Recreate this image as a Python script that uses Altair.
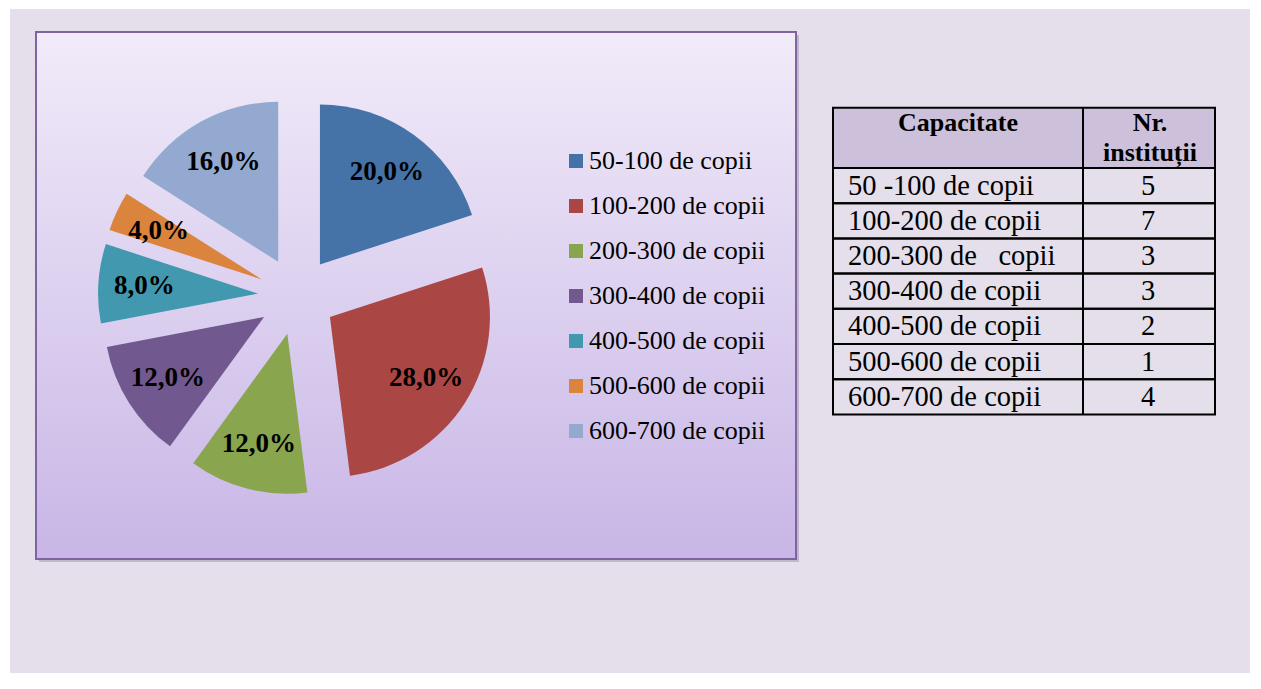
import math
import altair as alt
import pandas as pd

# ---- data ----
categories = ["50-100 de copii", "100-200 de copii", "200-300 de copii", "300-400 de copii",
              "400-500 de copii", "500-600 de copii", "600-700 de copii"]
table_labels = ["50 -100 de copii", "100-200 de copii", "200-300 de\u00a0\u00a0\u00a0copii", "300-400 de copii",
                "400-500 de copii", "500-600 de copii", "600-700 de copii"]
counts = [5, 7, 3, 3, 2, 1, 4]
colors = ["#4573A7", "#AA4643", "#89A54E", "#71588F", "#4198AF", "#DB843D", "#93A9CF"]
header_left = "Capacitate"
header_right = ["Nr.", "instituții"]

FONT = "Liberation Serif"
CX, CY, R, EXPL, LR = 287, 287, 160, 39, 114

pie_df = pd.DataFrame({"cat": categories, "count": counts, "idx": list(range(len(counts)))})
tab_df = pd.DataFrame({"label": table_labels, "count": counts, "idx": list(range(len(counts)))})

# ---- decorative panel ----
one = alt.Data(values=[{"k": 1}])
shadow = alt.Chart(one).mark_rect(color="#9c90aa", opacity=0.5).encode(
    x=alt.value(29), x2=alt.value(789), y=alt.value(26), y2=alt.value(553))
panel = alt.Chart(one).mark_rect(
    color=alt.Gradient(gradient="linear", x1=0, x2=0, y1=0, y2=1,
                       stops=[alt.GradientStop(color="#F1EBF9", offset=0),
                              alt.GradientStop(color="#C8B6E6", offset=1)]),
    stroke="#8064A2", strokeWidth=2).encode(
    x=alt.value(26), x2=alt.value(786), y=alt.value(23), y2=alt.value(550))

# ---- pie ----
base = (alt.Chart(pie_df)
        .transform_joinaggregate(total="sum(count)")
        .transform_window(cum="sum(count)", sort=[alt.SortField("idx")], frame=[None, 0])
        .transform_calculate(a0="(datum.cum - datum.count) / datum.total")
        .transform_calculate(a1="datum.cum / datum.total")
        .transform_calculate(mid="PI * (datum.a0 + datum.a1)")
        .transform_calculate(px=f"{CX} + {EXPL} * sin(datum.mid)")
        .transform_calculate(py=f"{CY} - {EXPL} * cos(datum.mid)")
        .transform_calculate(lx=f"datum.px + {LR} * sin(datum.mid)")
        .transform_calculate(ly=f"datum.py - {LR} * cos(datum.mid)")
        .transform_calculate(txt="replace(format(datum.count / datum.total * 100, '.1f'), '.', ',') + '%'"))

arcs = base.mark_arc(radius=R, stroke=None).encode(
    theta=alt.Theta("a0:Q", scale=alt.Scale(domain=[0, 1], range=[0, 2 * math.pi])),
    theta2="a1:Q",
    x=alt.X("px:Q", scale=None, axis=None),
    y=alt.Y("py:Q", scale=None, axis=None),
    color=alt.Color("cat:N", scale=alt.Scale(domain=categories, range=colors),
                    legend=alt.Legend(title=None, orient="none", legendX=553, legendY=139,
                                      symbolType="square", symbolSize=196, symbolStrokeWidth=0,
                                      symbolOpacity=1, labelFont=FONT, labelFontSize=26,
                                      labelColor="black", labelOffset=0, rowPadding=19,
                                      padding=0, labelLimit=400)),
)
labels = base.mark_text(font=FONT, fontSize=27, fontWeight="bold", color="black",
                        align="center", baseline="middle").encode(
    x=alt.X("lx:Q", scale=None, axis=None),
    y=alt.Y("ly:Q", scale=None, axis=None),
    text="txt:N")

# ---- table ----
TX0, TX1, TXD = 823, 1205, 1073
HY0, HY1, RH = 98.7, 159, 35.2

tbase = (alt.Chart(tab_df)
         .transform_calculate(y0=f"{HY1} + {RH} * datum.idx")
         .transform_calculate(y1=f"{HY1} + {RH} * (datum.idx + 1)")
         .transform_calculate(yc=f"{HY1} + {RH} * (datum.idx + 0.5)"))

header = alt.Chart(one).mark_rect(fill="#CCC0DA", stroke="black", strokeWidth=2).encode(
    x=alt.value(TX0), x2=alt.value(TX1), y=alt.value(HY0), y2=alt.value(HY1))
rows = tbase.mark_rect(fill="transparent", stroke="black", strokeWidth=2).encode(
    x=alt.value(TX0), x2=alt.value(TX1),
    y=alt.Y("y0:Q", scale=None, axis=None), y2="y1:Q")
divider = alt.Chart(one).mark_rule(color="black", strokeWidth=2).encode(
    x=alt.value(TXD), y=alt.value(HY0), y2=alt.value(HY1 + RH * len(counts)))
row_txt = tbase.mark_text(font=FONT, fontSize=28.5, color="black", align="left",
                          baseline="middle").encode(
    x=alt.value(838), y=alt.Y("yc:Q", scale=None, axis=None), text="label:N")
cnt_txt = tbase.mark_text(font=FONT, fontSize=28.5, color="black", align="center",
                          baseline="middle").encode(
    x=alt.value(1138), y=alt.Y("yc:Q", scale=None, axis=None), text="count:Q")

hdr_df = pd.DataFrame({"t": [header_left] + header_right,
                       "hx": [948, 1140, 1140], "hy": [122, 122, 152]})
hdr_txt = alt.Chart(hdr_df).mark_text(font=FONT, fontSize=26, fontWeight="bold", color="black",
                                      align="center", baseline="alphabetic").encode(
    x=alt.X("hx:Q", scale=None, axis=None), y=alt.Y("hy:Q", scale=None, axis=None), text="t:N")

chart = alt.layer(shadow, panel, arcs, labels, header, rows, divider, row_txt, cnt_txt, hdr_txt).properties(
    width=1240, height=664, padding={"left": 2, "top": 1, "right": 0, "bottom": 0},
    autosize=alt.AutoSizeParams(type="none"), background="white"
).resolve_scale(x="independent", y="independent").configure_view(fill="#E4DFEA", stroke=None)

chart.save("out.html", embed_options={"renderer": "svg", "actions": False})
